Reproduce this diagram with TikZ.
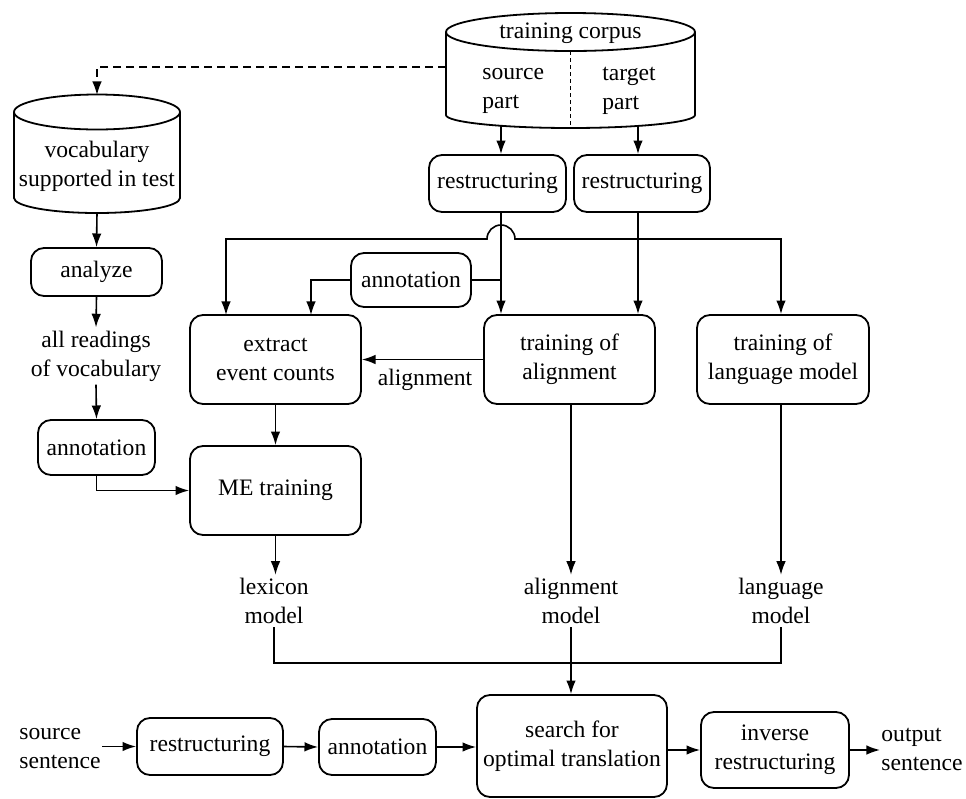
\documentclass[tikz,border=0pt]{standalone}
\usepackage{fontspec}
\setmainfont{Liberation Serif}
\usetikzlibrary{arrows.meta}
\begin{document}
\begin{tikzpicture}[x=0.5pt,y=-0.5pt,
  every node/.style={font=\fontsize{11.8pt}{14.5pt}\selectfont, inner sep=1.5pt},
  box/.style={draw, rounded corners=6.5pt, line width=0.9pt, align=center, inner sep=2pt},
  txt/.style={align=center},
  conn/.style={line width=0.8pt},
  arr/.style={conn, -{Latex[length=6.8pt,width=4.8pt]}},
  outline/.style={line width=0.9pt},
  dashline/.style={conn, dash pattern=on 4pt off 2.5pt}]
\useasboundingbox (0,0) rectangle (966,799);

% cylinders
\draw[outline] (446,32) -- (446,115) arc[start angle=180,end angle=360,x radius=62.25pt,y radius=6.5pt] -- (695,32);
\draw[outline] (570.5,32) ellipse[x radius=62.25pt, y radius=9.5pt];
\draw[conn, dash pattern=on 2pt off 1.5pt] (570.5,51) -- (570.5,129);
\node[txt] (corpus) at (570.5,33) {training corpus};
\node[align=left, anchor=west] (srcpart) at (479,91) {source\\part};
\node[align=left, anchor=west] (tgtpart) at (599,91) {target\\part};

\draw[outline] (14,112) -- (14,198) arc[start angle=180,end angle=360,x radius=41.5pt,y radius=7.5pt] -- (180,112);
\draw[outline] (97,112) ellipse[x radius=41.5pt, y radius=8.75pt];
\node[txt] (vocab) at (97,166) {vocabulary\\supported in test};

% boxes
\node[box, minimum width=68.5pt, minimum height=28.5pt] (rsrc) at (497.5,183.5) {restructuring};
\node[box, minimum width=68pt, minimum height=28.5pt] (rtgt) at (642,183.5) {restructuring};
\node[box, minimum width=65.5pt, minimum height=24pt] (analyze) at (96.5,272) {analyze};
\node[box, minimum width=58.5pt, minimum height=27.5pt] (ann1) at (96.5,447.5) {annotation};
\node[box, minimum width=60pt, minimum height=27pt] (ann2) at (411,280) {annotation};
\node[box, minimum width=85.5pt, minimum height=44.5pt] (extract) at (275.5,359.5) {extract\\event counts};
\node[box, minimum width=85.5pt, minimum height=44.5pt] (trainal) at (569.5,359.5) {training of\\alignment};
\node[box, minimum width=86pt, minimum height=44.5pt] (trainlm) at (783,359.5) {training of\\language model};
\node[box, minimum width=85.5pt, minimum height=44.5pt] (me) at (275.5,490.5) {ME training};
\node[box, minimum width=95pt, minimum height=51pt] (search) at (572,746) {search for\\optimal translation};
\node[box, minimum width=73pt, minimum height=28.5pt] (rbot) at (210,746.5) {restructuring};
\node[box, minimum width=58.5pt, minimum height=28pt] (annb) at (377.5,747) {annotation};
\node[box, minimum width=74pt, minimum height=38pt] (inv) at (775,750) {inverse\\restructuring};

% text nodes
\node[txt] (allread) at (96,356) {all readings\\of vocabulary};
\node[txt] (lex) at (274,601) {lexicon\\model};
\node[txt] (alm) at (571,601) {alignment\\model};
\node[txt] (lmm) at (781,601) {language\\model};
\node[txt] (alab) at (425,380) {alignment};
\node[align=left, anchor=west, inner sep=0.5pt] (srcs) at (18,749) {source\\sentence};
\node[align=left, anchor=west, inner sep=0.5pt] (outs) at (880,749) {output\\sentence};

% coordinates
\coordinate (cl) at (446,67);
\coordinate (vt) at (97,95);
\coordinate (vb) at (97,213);
\coordinate (cs) at (501,126);
\coordinate (ct) at (638,126);
\coordinate (sj) at (501,280);
\coordinate (tj) at (638,239);
\coordinate (e1) at (226,315);
\coordinate (e2) at (311,315);
\coordinate (lmx) at (781,239);
\coordinate (bus) at (571,663);

% connectors
\draw[dashline, -{Latex[length=6.8pt,width=4.8pt]}] (cl) -| (vt);
\draw[arr] (vb) -- (analyze.north);
\draw[arr] (analyze.south) -- (allread.north);
\draw[arr] (allread.south) -- (ann1.north);
\draw[arr] (ann1.south) |- (me.west);
\draw[arr] (extract.south) -- (me.north);
\draw[arr] (me.south) -- (me.south |- lex.north);
\draw[arr] (trainal.west) -- (extract.east);
\draw[arr] (alm.north |- trainal.south) -- (alm.north);
\draw[arr] (lmm.north |- trainlm.south) -- (lmm.north);
\draw[conn] (lex.south) |- (bus) -| (lmm.south);
\draw[arr] (alm.south) -- (alm.south |- search.north);

\draw[arr] (cs) -- (cs |- rsrc.north);
\draw[arr] (ct) -- (ct |- rtgt.north);
\draw[arr] (sj |- rsrc.south) -- (sj |- trainal.north);
\draw[conn] (ann2.east) -- (sj);
\draw[arr] (ann2.west) -| (e2);
\draw[arr] (tj |- rtgt.south) -- (tj |- trainal.north);
\draw[conn, {Latex[length=6.8pt,width=4.8pt]}-{Latex[length=6.8pt,width=4.8pt]}] (e1) -- (226,239) -- (487,239) arc[start angle=180,end angle=0,radius=7pt] -- (lmx) -- (lmx |- trainlm.north);

\draw[arr] (srcs.east |- rbot.west) -- (rbot.west);
\draw[arr] (rbot.east) -- (annb.west);
\draw[arr] (annb.east) -- (annb.east -| search.west);
\draw[arr] (search.east |- inv.west) -- (inv.west);
\draw[arr] (inv.east) -- (inv.east -| outs.west);
\end{tikzpicture}
\end{document}
